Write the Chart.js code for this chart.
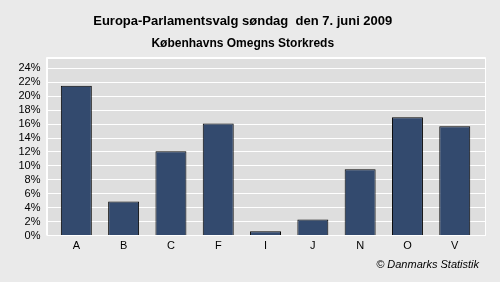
<!DOCTYPE html>
<html>
<head>
<meta charset="utf-8">
<script src="https://cdn.jsdelivr.net/npm/chart.js@4"></script>
<style>
  html, body { margin: 0; padding: 0; background: #eaeaea; }
  #wrap { width: 500px; height: 282px; position: relative; }
</style>
</head>
<body>
<div id="wrap"><canvas id="myChart" width="500" height="282"></canvas></div>
<script>
// parti-bogstaver og stemmeandel i procent
const partier = ['A', 'B', 'C', 'F', 'I', 'J', 'N', 'O', 'V'];
const andel = [21.5, 4.9, 12.1, 16.1, 0.6, 2.3, 9.5, 17.0, 15.7];
const yTicks = [0, 2, 4, 6, 8, 10, 12, 14, 16, 18, 20, 22, 24];

const plotBaggrund = {
    id: 'plotBaggrund',
    beforeDraw(chart) {
        const a = chart.chartArea;
        const ctx = chart.ctx;
        ctx.save();
        ctx.fillStyle = '#dedede';
        ctx.fillRect(a.left, a.top, a.right - a.left, a.bottom - a.top);
        ctx.restore();
    },
    afterDraw(chart) {
        const a = chart.chartArea;
        const ctx = chart.ctx;
        ctx.save();
        ctx.strokeStyle = '#ffffff';
        ctx.lineWidth = 1;
        const l = Math.round(a.left) - 0.5, r = Math.round(a.right) - 0.5;
        const t = Math.round(a.top) - 0.5;
        ctx.beginPath();
        ctx.moveTo(l, t); ctx.lineTo(r, t); ctx.lineTo(r, a.bottom);
        ctx.moveTo(l, t); ctx.lineTo(l, a.bottom);
        ctx.stroke();
        ctx.font = 'italic 11px "Liberation Sans", Arial, sans-serif';
        ctx.fillStyle = '#000';
        ctx.textAlign = 'right';
        ctx.textBaseline = 'middle';
        ctx.fillText('© Danmarks Statistik', 479, 265);
        ctx.restore();
    }
};

const data = {
    datasets: [{
        data: andel.map((v, i) => ({ x: i, y: v })),
        backgroundColor: '#334a6e',
        borderColor: '#000000',
        borderWidth: 1,
        barPercentage: 0.655,
        categoryPercentage: 1
    }]
};

const config = {
    type: 'bar',
    data: data,
    options: {
        responsive: false,
        animation: false,
        layout: { padding: { left: 0, right: 14.5, top: 0, bottom: 26.5 } },
        plugins: {
            legend: { display: false },
            tooltip: { enabled: false },
            title: {
                display: true,
                text: 'Europa-Parlamentsvalg søndag  den 7. juni 2009',
                color: '#000',
                font: { family: '"Liberation Sans", Arial, sans-serif', size: 13, weight: 'bold', lineHeight: 1.2 },
                padding: { top: 13.7, bottom: 0 }
            },
            subtitle: {
                display: true,
                text: 'Københavns Omegns Storkreds',
                color: '#000',
                font: { family: '"Liberation Sans", Arial, sans-serif', size: 12, weight: 'bold', lineHeight: 1.2 },
                padding: { top: 7, bottom: 7.3 }
            }
        },
        scales: {
            x: {
                type: 'linear',
                offset: false,
                min: -0.62,
                max: 8.65,
                grid: { display: false, drawTicks: false, offset: false },
                border: { display: true, color: '#ffffff' },
                afterBuildTicks(scale) {
                    scale.ticks = partier.map((p, i) => ({ value: i }));
                },
                afterFit(scale) { scale.height = 20; },
                ticks: {
                    autoSkip: false,
                    maxRotation: 0,
                    padding: 4,
                    color: '#000',
                    font: { family: '"Liberation Sans", Arial, sans-serif', size: 11 },
                    callback: (v) => partier[v] !== undefined ? partier[v] : ''
                }
            },
            y: {
                min: 0,
                max: 25.5,
                afterBuildTicks(scale) {
                    scale.ticks = yTicks.map(v => ({ value: v })).concat([{ value: 25.5 }]);
                },
                afterFit(scale) { scale.width = 47; },
                grid: { color: '#ffffff', lineWidth: 1, drawTicks: false },
                border: { display: true, color: '#ffffff' },
                ticks: {
                    autoSkip: false,
                    padding: 6.5,
                    color: '#000',
                    font: { family: '"Liberation Sans", Arial, sans-serif', size: 11 },
                    callback: (v) => yTicks.includes(v) ? v + '%' : ''
                }
            }
        }
    },
    plugins: [plotBaggrund]
};

const myChart = new Chart(document.getElementById('myChart'), config);
</script>
</body>
</html>
